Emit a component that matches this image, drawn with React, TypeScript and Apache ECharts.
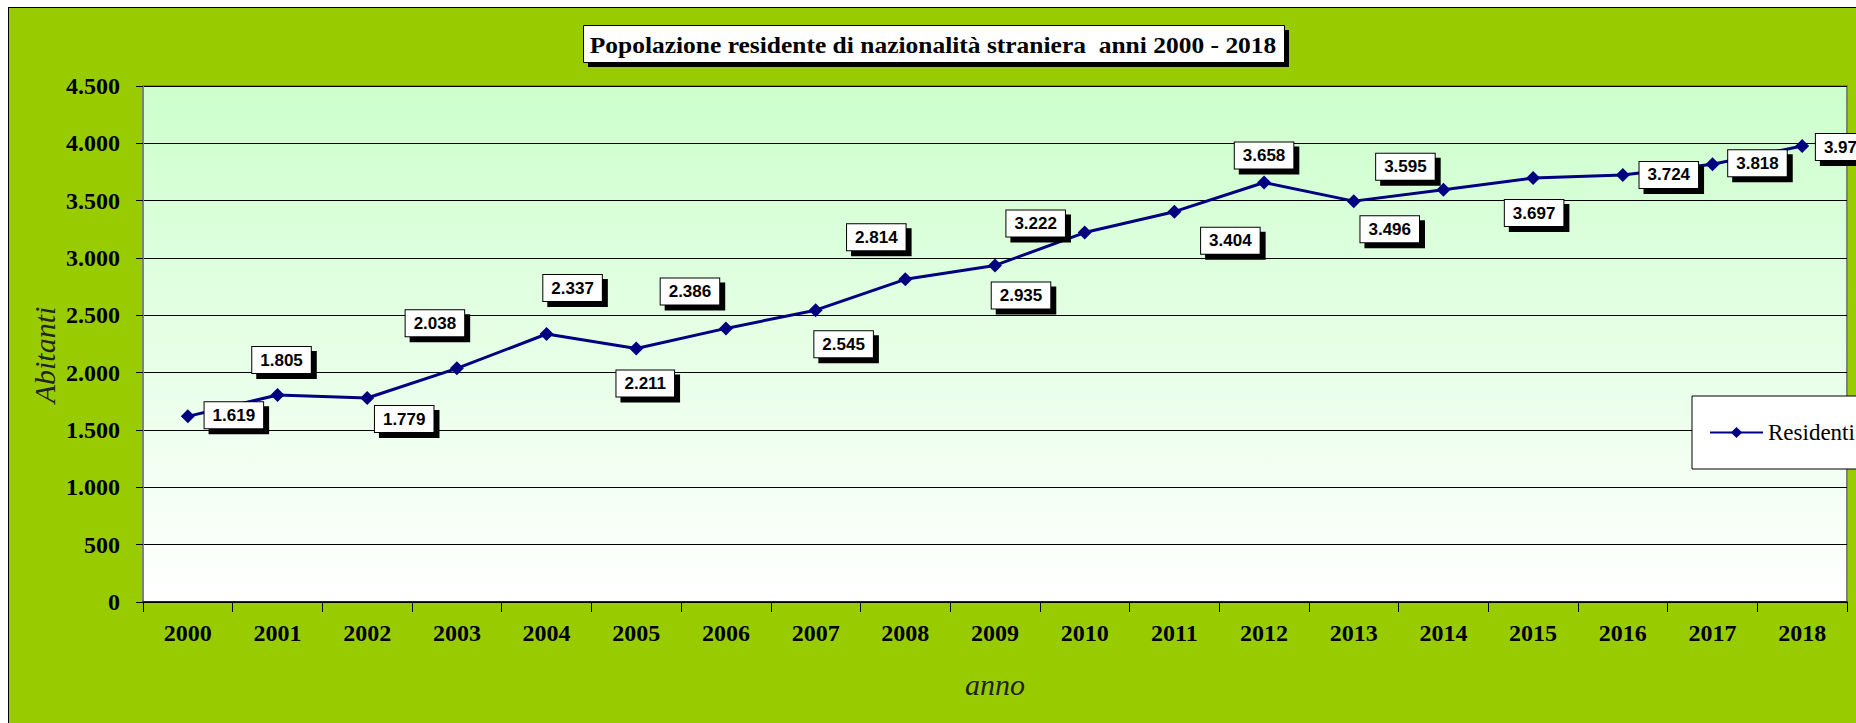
import React, { useEffect, useRef } from "react";
import * as echarts from "echarts";

const years = ["2000","2001","2002","2003","2004","2005","2006","2007","2008","2009","2010","2011","2012","2013","2014","2015","2016","2017","2018"];
const residenti = [1619,1805,1779,2038,2337,2211,2386,2545,2814,2935,3222,3404,3658,3496,3595,3697,3724,3818,3976];
const yMin = 0;
const yMax = 4500;
const yInterval = 500;
const titleText = "Popolazione residente di nazionalità straniera  anni 2000 - 2018";
const seriesName = "Residenti";
const yName = "Abitanti";
const xName = "anno";
// label box offsets (dx, dy) relative to each point, layout only
const labelOffsets: [number, number][] = [
  [46,-1],[4,-35],[37,21],[-22,-45],[26,-46],[9,35],[-36,-37],[28,34],[-29,-42],[26,30],
  [-49,-9],[56,29],[0,-27],[36,28],[-38,-23],[1,35],[46,0],[45,-1],[43,1]
];

const fmt = (v: number) => String(v).replace(/\B(?=(\d{3})+(?!\d))/g, ".");

export default function App() {
  const ref = useRef<HTMLDivElement>(null);
  useEffect(() => {
    if (!ref.current) return;
    const chart = echarts.init(ref.current, undefined, { renderer: "svg" });
    const titleFont = "bold 23px 'Liberation Serif'";
    let tw = 700;
    try {
      const ctx = document.createElement("canvas").getContext("2d");
      if (ctx) { ctx.font = titleFont; tw = ctx.measureText(titleText).width; }
    } catch (e) {}
    const titleScale = 687 / tw;
    chart.setOption({
      animation: false,
      backgroundColor: "transparent",
      grid: {
        left: 143, top: 86, right: 9, bottom: 121,
        show: true,
        backgroundColor: new echarts.graphic.LinearGradient(0, 0, 0, 1, [
          { offset: 0, color: "#ccffcc" },
          { offset: 1, color: "#ffffff" },
        ]),
        borderColor: "#808080",
        borderWidth: 2,
      },
      xAxis: {
        type: "category",
        data: years,
        boundaryGap: true,
        axisLine: { show: true, lineStyle: { color: "#000", width: 1.5 } },
        axisTick: { show: true, inside: false, length: 10, interval: 0, lineStyle: { color: "#000", width: 1 } },
        axisLabel: { interval: 0, margin: 19, fontFamily: "Liberation Serif", fontWeight: "bold", fontSize: 24, color: "#000" },
        splitLine: { show: false },
      },
      yAxis: {
        type: "value",
        min: yMin, max: yMax, interval: yInterval,
        axisLine: { show: true, lineStyle: { color: "#808080", width: 2 } },
        axisTick: { show: true, length: 7, lineStyle: { color: "#000", width: 1 } },
        axisLabel: { margin: 23, fontFamily: "Liberation Serif", fontWeight: "bold", fontSize: 24, color: "#000", formatter: (v: number) => fmt(v) },
        splitLine: { show: true, lineStyle: { color: "#000", width: 1 } },
      },
      legend: {
        show: true,
        left: 1692, top: 396,
        orient: "horizontal",
        backgroundColor: "#fff",
        borderColor: "#000",
        borderWidth: 1,
        borderRadius: 0,
        padding: [25, 40, 25, 17],
        itemWidth: 53,
        itemHeight: 14,
        textStyle: { fontFamily: "Liberation Serif", fontSize: 23, color: "#000" },
        data: [seriesName],
      },
      series: [
        {
          name: seriesName,
          type: "line",
          data: residenti.map((v, i) => ({ value: v, label: { offset: labelOffsets[i] } })),
          symbol: "diamond",
          symbolSize: 14,
          itemStyle: { color: "#000080" },
          lineStyle: { color: "#000080", width: 3 },
          label: {
            show: true,
            position: "inside",
            formatter: (p: any) => fmt(p.value),
            fontFamily: "Liberation Sans",
            fontWeight: "bold",
            fontSize: 17,
            color: "#000",
            backgroundColor: "#fff",
            borderColor: "#000",
            borderWidth: 1,
            padding: [5, 8, 4, 8],
            shadowColor: "#000",
            shadowOffsetX: 5,
            shadowOffsetY: 5,
            shadowBlur: 0,
          },
          z: 3,
        },
      ],
      graphic: [
        { type: "rect", shape: { x: 588, y: 30, width: 701, height: 37 }, style: { fill: "#000" }, silent: true },
        { type: "rect", shape: { x: 583.5, y: 25.5, width: 701, height: 37 }, style: { fill: "#fff", stroke: "#000", lineWidth: 1 }, silent: true },
        {
          type: "text", x: 933, y: 45, scaleX: titleScale, scaleY: 1,
          style: { text: titleText, font: titleFont, fill: "#000", align: "center", verticalAlign: "middle" },
          silent: true,
        },
        {
          type: "text", x: 44, y: 355, rotation: Math.PI / 2,
          style: { text: yName, font: "italic 30px 'Liberation Serif'", fill: "#222", align: "center", verticalAlign: "middle" },
          silent: true,
        },
        {
          type: "text", x: 995, y: 684,
          style: { text: xName, font: "italic 30px 'Liberation Serif'", fill: "#222", align: "center", verticalAlign: "middle" },
          silent: true,
        },
      ],
    });
    return () => chart.dispose();
  }, []);
  return (
    <div style={{ position: "fixed", left: 0, top: 0, width: 1856, height: 723, background: "#fff", overflow: "hidden" }}>
      <div style={{ position: "absolute", left: 8, top: 7, width: 1950, height: 800, background: "#99cc00", borderLeft: "1px solid #000", borderTop: "1px solid #000" }} />
      <div ref={ref} style={{ position: "absolute", left: 0, top: 0, width: 1856, height: 723 }} />
    </div>
  );
}
